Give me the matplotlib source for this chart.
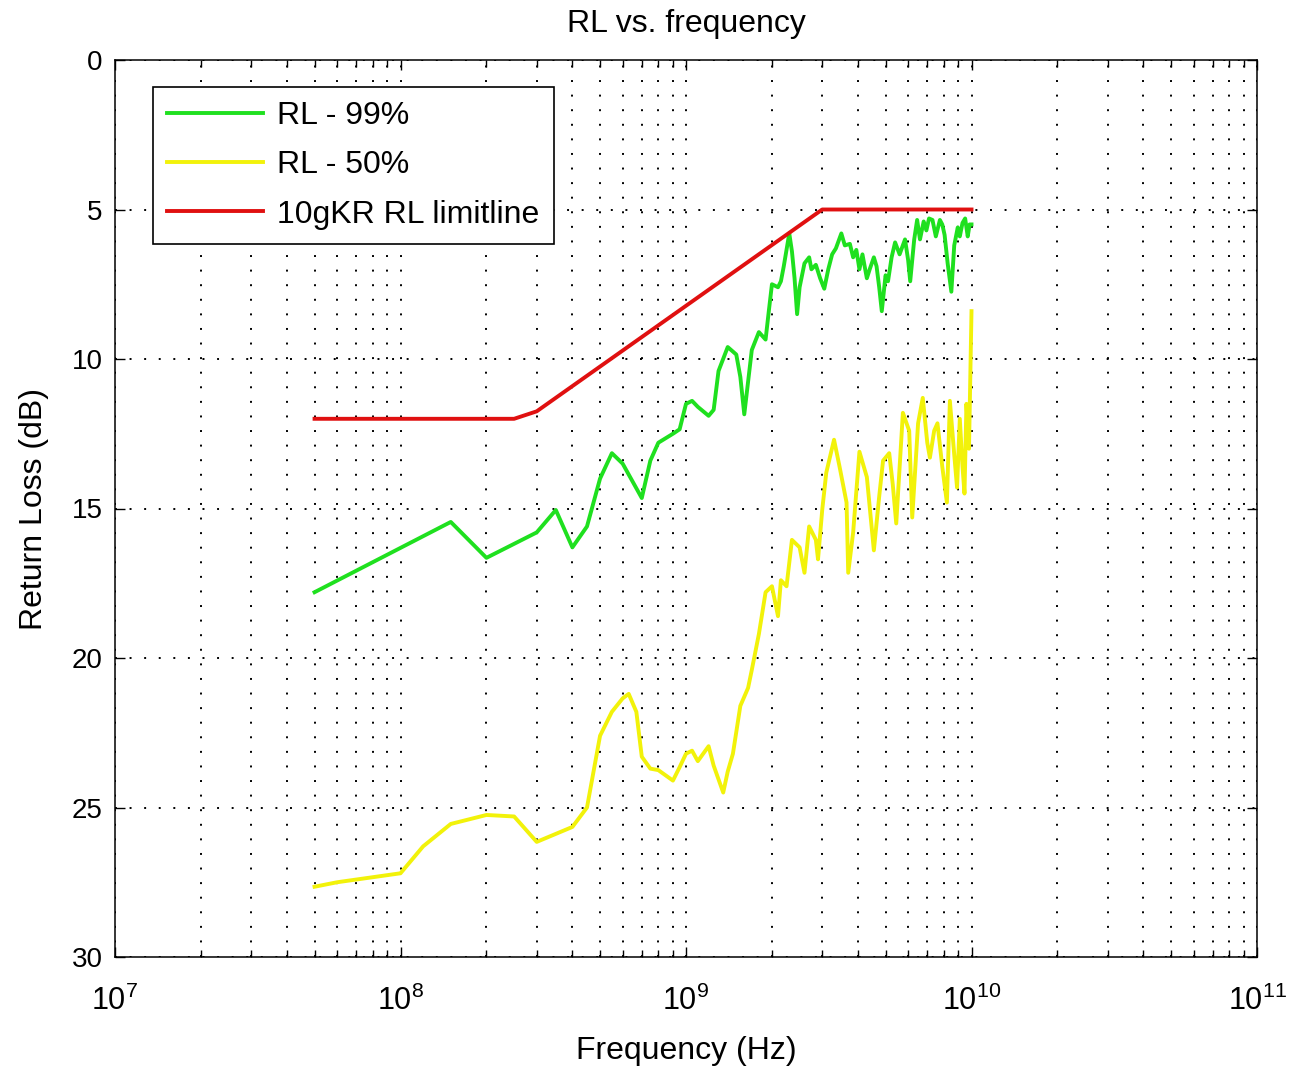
import numpy as np
import matplotlib
matplotlib.use("Agg")
import matplotlib.pyplot as plt
from matplotlib.ticker import LogLocator, NullFormatter, MultipleLocator

plt.rcParams['font.family'] = ['Liberation Sans', 'DejaVu Sans']

# ---- data (frequency in Hz, return loss in dB) ----
limit_f = [5e7, 2.5e8, 3e8, 3e9, 1e10]
limit_db = [12.0, 12.0, 11.75, 5.0, 5.0]

rl99_f = [5e7, 1.5e8, 2e8, 3e8, 3.5e8, 4e8, 4.5e8, 5e8, 5.5e8, 6e8, 7e8, 7.5e8, 8e8,
          9e8, 9.5e8, 1.0e9, 1.05e9, 1.1e9, 1.2e9, 1.25e9, 1.3e9, 1.4e9, 1.5e9, 1.55e9,
          1.6e9, 1.7e9, 1.8e9, 1.9e9, 1.95e9, 2.0e9, 2.1e9, 2.15e9, 2.2e9, 2.3e9, 2.35e9,
          2.4e9, 2.45e9, 2.5e9, 2.6e9, 2.7e9, 2.75e9, 2.85e9, 2.95e9, 3.05e9, 3.15e9,
          3.25e9, 3.35e9, 3.5e9, 3.6e9, 3.75e9, 3.85e9, 3.95e9, 4.05e9, 4.15e9, 4.3e9,
          4.4e9, 4.55e9, 4.65e9, 4.75e9, 4.85e9, 5.0e9, 5.1e9, 5.25e9, 5.4e9, 5.6e9,
          5.85e9, 6.0e9, 6.1e9, 6.3e9, 6.45e9, 6.6e9, 6.8e9, 6.95e9, 7.1e9, 7.3e9,
          7.5e9, 7.75e9, 7.9e9, 8.05e9, 8.25e9, 8.5e9, 8.7e9, 8.95e9, 9.1e9, 9.3e9,
          9.5e9, 9.7e9, 9.85e9, 1e10]
rl99_db = [17.8, 15.45, 16.65, 15.8, 15.05, 16.3, 15.6, 14.0, 13.15, 13.5, 14.65, 13.4, 12.8,
           12.5, 12.35, 11.5, 11.4, 11.6, 11.9, 11.7, 10.4, 9.6, 9.85, 10.6,
           11.85, 9.7, 9.1, 9.35, 8.4, 7.5, 7.6, 7.4, 6.9, 5.8, 6.4,
           7.3, 8.5, 7.6, 6.8, 6.6, 7.0, 6.85, 7.3, 7.65, 7.0,
           6.5, 6.3, 5.8, 6.2, 6.15, 6.6, 6.35, 7.0, 6.5, 7.3,
           7.0, 6.6, 6.9, 7.6, 8.4, 7.2, 7.4, 6.6, 6.1, 6.5,
           6.0, 6.7, 7.4, 6.0, 5.35, 6.0, 5.4, 5.7, 5.3, 5.35,
           5.9, 5.35, 5.5, 5.85, 6.8, 7.75, 6.2, 5.6, 5.9, 5.45,
           5.3, 5.9, 5.5, 5.5]

rl50_f = [5e7, 6e7, 1e8, 1.2e8, 1.5e8, 2e8, 2.5e8, 3e8, 4e8, 4.5e8, 5e8, 5.5e8, 6e8,
          6.3e8, 6.7e8, 7e8, 7.5e8, 8e8, 9e8, 9.5e8, 1.0e9, 1.05e9, 1.1e9, 1.2e9,
          1.25e9, 1.35e9, 1.4e9, 1.46e9, 1.55e9, 1.65e9, 1.7e9, 1.8e9, 1.9e9, 2.0e9,
          2.1e9, 2.15e9, 2.25e9, 2.35e9, 2.5e9, 2.6e9, 2.7e9, 2.85e9, 2.9e9, 3.0e9,
          3.1e9, 3.3e9, 3.45e9, 3.65e9, 3.7e9, 3.85e9, 4.05e9, 4.3e9, 4.55e9, 4.75e9,
          4.9e9, 5.15e9, 5.3e9, 5.45e9, 5.75e9, 6.05e9, 6.2e9, 6.5e9, 6.75e9, 7.0e9,
          7.15e9, 7.4e9, 7.6e9, 7.9e9, 8.2e9, 8.4e9, 8.7e9, 8.9e9, 9.1e9, 9.3e9,
          9.45e9, 9.6e9, 9.8e9, 1e10]
rl50_db = [27.65, 27.5, 27.2, 26.3, 25.55, 25.25, 25.3, 26.15, 25.65, 25.0, 22.6, 21.8, 21.35,
           21.2, 21.8, 23.3, 23.7, 23.75, 24.1, 23.65, 23.2, 23.1, 23.45, 22.95,
           23.6, 24.5, 23.8, 23.2, 21.6, 21.0, 20.4, 19.2, 17.8, 17.6,
           18.6, 17.4, 17.6, 16.05, 16.3, 17.15, 15.6, 16.05, 16.7, 15.05,
           13.8, 12.7, 13.6, 14.8, 17.15, 15.8, 13.1, 13.95, 16.4, 14.6,
           13.4, 13.15, 14.2, 15.5, 11.8, 12.4, 15.3, 12.15, 11.3, 12.8,
           13.3, 12.4, 12.15, 13.6, 14.8, 11.4, 13.2, 14.3, 12.0, 13.6,
           14.5, 11.5, 13.0, 8.4]

# ---- figure ----
fig = plt.figure(figsize=(12.91, 10.66), dpi=100)
ax = fig.add_axes([115/1291, 1-957/1066, 1142/1291, 897/1066])

ax.plot(rl99_f, rl99_db, color='#1fe01f', lw=2.8, label='RL - 99%')
ax.plot(rl50_f, rl50_db, color='#f2f20a', lw=2.8, label='RL - 50%')
ax.plot(limit_f, limit_db, color='#e01010', lw=2.8, label='10gKR RL limitline')

ax.set_xscale('log')
ax.set_xlim(1e7, 1e11)
ax.set_ylim(30, 0)
ax.yaxis.set_major_locator(MultipleLocator(5))
ax.xaxis.set_major_locator(LogLocator(base=10, numticks=10))
ax.xaxis.set_minor_locator(LogLocator(base=10, subs=np.arange(2, 10), numticks=20))
ax.xaxis.set_minor_formatter(NullFormatter())

dots = (0, (1, 6.5))
ax.grid(True, which='major', axis='both', color='black', linestyle=dots, lw=1.4)
ax.grid(True, which='minor', axis='x', color='black', linestyle=dots, lw=1.4)

ax.tick_params(which='both', direction='in', top=True, right=True)
ax.tick_params(which='major', length=7.5, width=1)
ax.tick_params(which='minor', length=5, width=1)
ax.tick_params(axis='x', labelsize=22, pad=21)
ax.tick_params(axis='y', labelsize=20, pad=9)
for s in ax.spines.values():
    s.set_linewidth(1.1)

ax.set_title('RL vs. frequency', fontsize=23, pad=20)
ax.set_xlabel('Frequency (Hz)', fontsize=23, labelpad=13)
ax.set_ylabel('Return Loss (dB)', fontsize=23, labelpad=16)

leg = ax.legend(loc='upper left', bbox_to_anchor=(0.033, 0.970), borderaxespad=0,
                fontsize=23, handlelength=3.0, fancybox=False, framealpha=1,
                edgecolor='black', borderpad=0.45, labelspacing=0.6, handletextpad=0.45)
leg.get_frame().set_linewidth(1.2)

fig.savefig('out.png', dpi=100, facecolor='white')
